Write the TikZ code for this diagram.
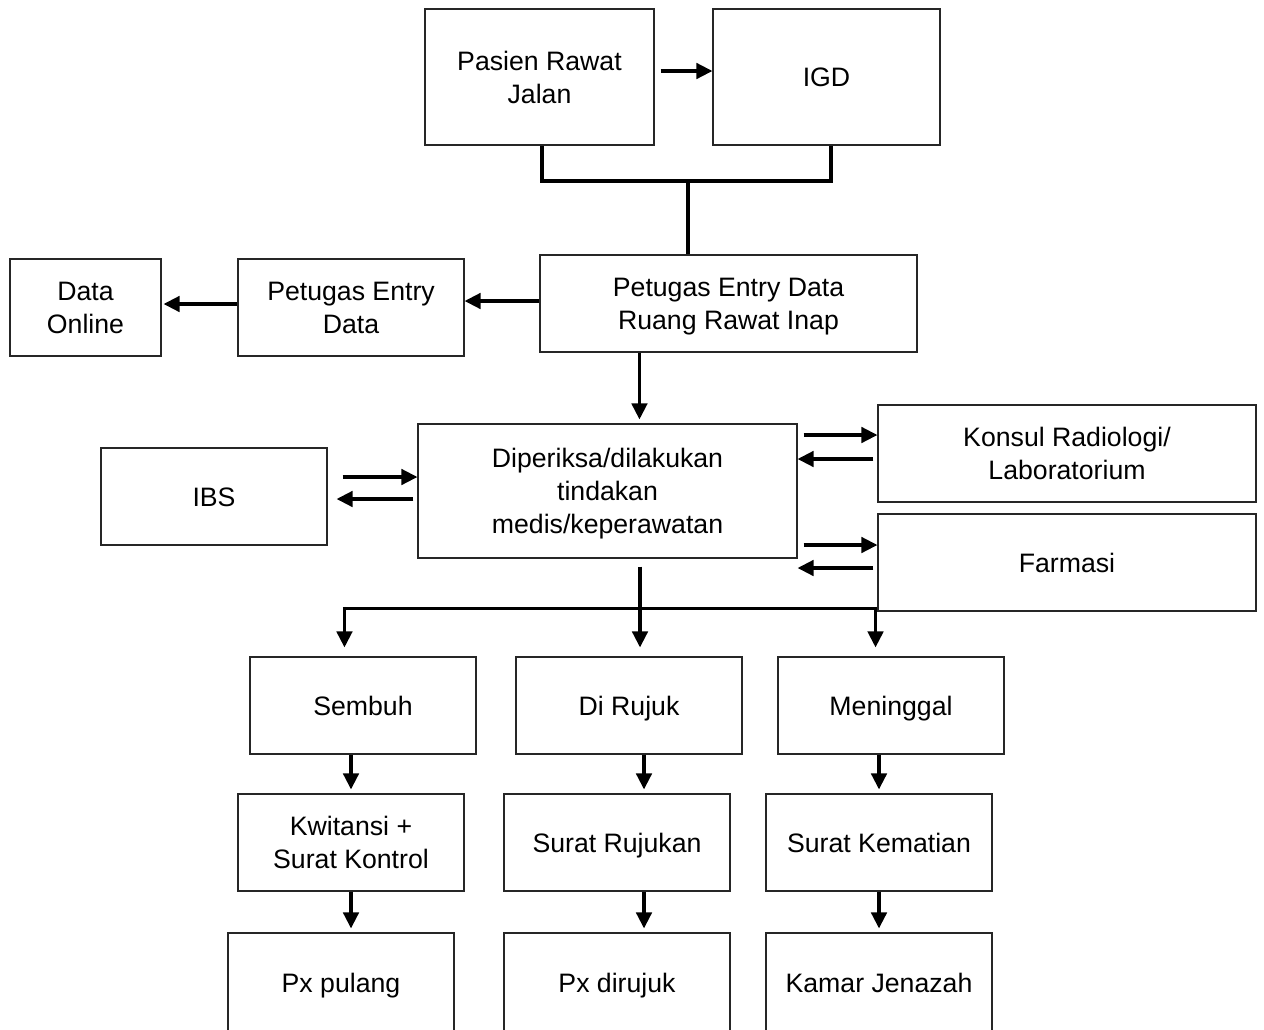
\documentclass[tikz,border=0pt]{standalone}
\usepackage{fontspec}
\setmainfont{Liberation Sans}
\usetikzlibrary{arrows.meta,calc}
\newcommand\sst{\rule[-4.5pt]{0pt}{23.5pt}}
\begin{document}
\begin{tikzpicture}[x=0.75pt,y=-0.75pt,
 box/.style={draw=black!85,line width=0.8pt,inner sep=0pt,align=center,font=\fontsize{20}{24.75}\selectfont},
 bx/.style 2 args={minimum width=#1*0.75pt,minimum height=#2*0.75pt},
 line/.style={line width=2.6pt},
 arr/.style={line width=2.6pt,-{Triangle[length=12pt,width=11.5pt]}}]
\useasboundingbox (0,0) rectangle (1264,1029);
\clip (0,0) rectangle (1264,1029);
\fill[white] (0,0) rectangle (1264,1029);

% nodes
\node[box,bx={229}{136}] (pasien) at (539.5,77) {\sst Pasien Rawat\\\sst Jalan};
\node[box,bx={227}{136}] (igd) at (826.5,77) {\sst IGD};
\node[box,bx={377}{97}] (ruang) at (728.5,303.5) {\sst Petugas Entry Data\\\sst Ruang Rawat Inap};
\node[box,bx={226}{97}] (petugas) at (351,307.5) {\sst Petugas Entry\\\sst Data};
\node[box,bx={151}{97}] (online) at (85.5,307.5) {\sst Data\\\sst Online};
\node[box,bx={379}{134}] (dip) at (607.5,491) {\sst Diperiksa/dilakukan\\\sst tindakan\\\sst medis/keperawatan};
\node[box,bx={226}{97}] (ibs) at (214,496.5) {\sst IBS};
\node[box,bx={378}{97}] (konsul) at (1067,453.5) {\sst Konsul Radiologi/\\\sst Laboratorium};
\node[box,bx={378}{97}] (farmasi) at (1067,562.5) {\sst Farmasi};
\node[box,bx={226}{97}] (sembuh) at (363,705.5) {\sst Sembuh};
\node[box,bx={226}{97}] (rujuk) at (629,705.5) {\sst Di Rujuk};
\node[box,bx={226}{97}] (meninggal) at (891,705.5) {\sst Meninggal};
\node[box,bx={226}{97}] (kwitansi) at (351,842.5) {\sst Kwitansi +\\\sst Surat Kontrol};
\node[box,bx={226}{97}] (srujuk) at (617,842.5) {\sst Surat Rujukan};
\node[box,bx={226}{97}] (kematian) at (879,842.5) {\sst Surat Kematian};
\node[box,bx={226}{100}] (pulang) at (341,983) {\sst Px pulang};
\node[box,bx={226}{100}] (pxrujuk) at (617,983) {\sst Px dirujuk};
\node[box,bx={226}{100}] (jenazah) at (879,983) {\sst Kamar Jenazah};

% top connectors
\draw[arr] ($(pasien.east)+(6,-6)$) -- ($(igd.west)+(0,-6)$);
\coordinate (j) at (688,181);
\draw[line] ($(pasien.south)+(2.5,0)$) |- (j) -| ($(igd.south)+(4.5,0)$);
\draw[line] (j) -- (j |- ruang.north);
\draw[arr] ($(ruang.west)+(0,-2.5)$) -- ($(petugas.east)+(0,-6.5)$);
\draw[arr] ($(petugas.west)+(0,-3.5)$) -- ($(online.east)+(2,-3.5)$);
\coordinate (r1) at ($(ruang.south west)+(100,0)$);
\draw[arr] (r1) -- ($(r1 |- dip.north)+(0,-4)$);

% side exchanges
\draw[arr] ($(ibs.east)+(15,-19.5)$) -- ($(dip.west)+(0,-14)$);
\draw[arr] ($(dip.west)+(-4,8)$) -- ($(ibs.east)+(9,2.5)$);
\draw[arr] ($(dip.east)+(6,-56)$) -- ($(konsul.west)+(0,-18.5)$);
\draw[arr] ($(konsul.west)+(-4,5.5)$) -- ($(dip.east)+(0,-32)$);
\draw[arr] ($(dip.east)+(6,54)$) -- ($(farmasi.west)+(0,-17.5)$);
\draw[arr] ($(farmasi.west)+(-4,5.5)$) -- ($(dip.east)+(0,77)$);

% bus to outcomes
\draw[arr] ($(dip.south)+(32.5,8)$) -- ($(rujuk.north)+(11,-9)$);
\coordinate (bl) at ($(sembuh.north west)+(95,-48)$);
\coordinate (br) at ($(meninggal.north east)+(-129,-48)$);
\draw[line] ($(bl)+(-1.7,0)$) -- ($(br)+(1.7,0)$);
\draw[arr] ($(bl)+(0,-1.7)$) -- ($(bl |- sembuh.north)+(0,-9)$);
\draw[arr] ($(br)+(0,-1.7)$) -- ($(br |- meninggal.north)+(0,-9)$);

% down chains
\draw[arr] (sembuh.south -| kwitansi.north) -- ($(kwitansi.north)+(0,-4)$);
\draw[arr] ($(rujuk.south)+(15,0)$) -- ($(srujuk.north)+(27,-4)$);
\draw[arr] (meninggal.south -| kematian.north) -- ($(kematian.north)+(0,-4)$);
\draw[arr] (kwitansi.south) -- ($(kwitansi.south |- pulang.north)+(0,-4)$);
\draw[arr] ($(srujuk.south)+(27,0)$) -- ($(pxrujuk.north)+(27,-4)$);
\draw[arr] (kematian.south) -- ($(jenazah.north)+(0,-4)$);
\end{tikzpicture}
\end{document}
